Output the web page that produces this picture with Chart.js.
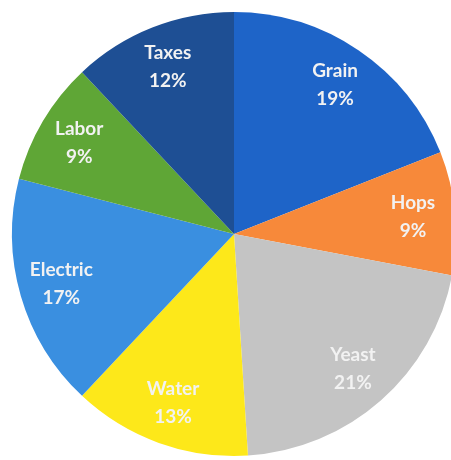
<!DOCTYPE html>
<html>
<head>
<meta charset="utf-8">
<script src="https://cdn.jsdelivr.net/npm/chart.js@4"></script>
<style>
  html, body { margin: 0; padding: 0; background: #fff; overflow: hidden; }
  #wrap { width: 468px; height: 468px; }
</style>
</head>
<body>
<div id="wrap"><canvas id="pieChart" width="468" height="468"></canvas></div>
<script>
// 費目と割合（%）
const categories = ['Grain', 'Hops', 'Yeast', 'Water', 'Electric', 'Labor', 'Taxes'];
const shares = [19, 9, 21, 13, 17, 9, 12];
const sliceColors = ['#1e64c8', '#f7893a', '#c4c4c4', '#fde81a', '#3a8fe0', '#5fa636', '#1e4f94'];

// スライス上にラベルと割合を描くプラグイン
const sliceLabels = {
  id: 'sliceLabels',
  afterDatasetsDraw(chart) {
    const ctx = chart.ctx;
    const meta = chart.getDatasetMeta(0);
    const total = shares.reduce((a, b) => a + b, 0);
    ctx.save();
    ctx.fillStyle = '#f2f2f2';
    ctx.font = 'bold 19px Lato, "Open Sans", sans-serif';
    ctx.textAlign = 'center';
    ctx.textBaseline = 'middle';
    meta.data.forEach((arc, i) => {
      const mid = (arc.startAngle + arc.endAngle) / 2;
      const r = arc.outerRadius * 0.81;
      const x = arc.x + Math.cos(mid) * r;
      const y = arc.y + Math.sin(mid) * r;
      const pct = Math.round(shares[i] / total * 100) + '%';
      ctx.fillText(categories[i], x, y - 14);
      ctx.fillText(pct, x, y + 14);
    });
    ctx.restore();
  }
};

new Chart(document.getElementById('pieChart').getContext('2d'), {
  type: 'pie',
  data: {
    labels: categories,
    datasets: [{
      data: shares,
      backgroundColor: sliceColors,
      borderWidth: 0,
    }],
  },
  options: {
    responsive: false,
    animation: false,
    layout: { padding: 12 },
    plugins: {
      legend: { display: false },
      tooltip: { enabled: false },
    },
  },
  plugins: [sliceLabels],
});
</script>
</body>
</html>
